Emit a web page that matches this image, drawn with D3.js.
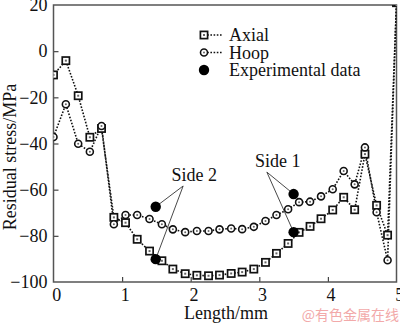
<!DOCTYPE html>
<html>
<head>
<meta charset="utf-8">
<script src="https://cdn.jsdelivr.net/npm/d3@7"></script>
<style>
  html, body { margin: 0; padding: 0; background: #fff; }
  svg { display: block; }
  text { font-family: "Liberation Serif", "Times New Roman", serif; fill: #111; }
</style>
</head>
<body>
<svg id="chart" width="400" height="325"></svg>
<script>
// Position along the specimen (mm)
const lengths = [0, 0.18, 0.36, 0.53, 0.70, 0.88, 1.05, 1.22, 1.40, 1.58, 1.74, 1.92, 2.09,
  2.26, 2.42, 2.59, 2.75, 2.92, 3.09, 3.25, 3.42, 3.58, 3.74, 3.90, 4.07, 4.23, 4.39,
  4.54, 4.71, 4.87, 5.0];
// Simulated residual stress (MPa)
const axial = [-10.3, -4.1, -19.3, -37.3, -33.5, -72.0, -74.3, -81.5, -86.6, -90.8, -94.4,
  -96.4, -97.1, -97.3, -97.0, -96.3, -95.7, -94.4, -91.5, -87.6, -83.3, -78.5, -75.9,
  -72.6, -68.8, -63.3, -68.7, -44.6, -66.8, -79.7, 21];
const hoop = [-37.2, -23.0, -40.1, -43.6, -32.4, -75.0, -71.0, -71.0, -72.7, -75.0, -77.2,
  -78.4, -77.9, -77.9, -77.2, -76.8, -77.1, -76.1, -73.6, -71.0, -68.5, -65.4, -65.2,
  -62.9, -59.8, -51.9, -57.7, -41.7, -69.8, -90.6, 21];
// Measured values on both sides
const expLength = [1.49, 1.49, 3.50, 3.50];
const expStress = [-67.4, -90.1, -61.9, -78.4];
const expSide = ["Side 2", "Side 2", "Side 1", "Side 1"];
// Callout label anchors (data coordinates)
const sideLabels = ["Side 2", "Side 1"];
const sideLabelLength = [1.89, 3.11];
const sideLabelStress = [-58.4, -52.4];

const xTicks = [0, 1, 2, 3, 4, 5];
const yTicks = [-100, -80, -60, -40, -20, 0, 20];

const svg = d3.select("#chart");
const x = d3.scaleLinear().domain([0, 5]).range([53.5, 396.5]);
const y = d3.scaleLinear().domain([-100, 20]).range([282, 5]);

svg.append("defs").append("clipPath").attr("id", "plot")
  .append("rect").attr("x", x(0)).attr("y", y(20))
  .attr("width", x(5) - x(0)).attr("height", y(-100) - y(20));

// Axes with inward ticks
const xAxis = svg.append("g").attr("transform", `translate(0,${y(-100)})`)
  .call(d3.axisBottom(x).tickValues(xTicks).tickFormat(d3.format("d")).tickSizeInner(-5).tickSizeOuter(0).tickPadding(6));
const yAxis = svg.append("g").attr("transform", `translate(${x(0)},0)`)
  .call(d3.axisLeft(y).tickValues(yTicks).tickSizeInner(-5).tickSizeOuter(0).tickPadding(6));
[xAxis, yAxis].forEach(g => {
  g.attr("font-family", null).attr("font-size", null);
  g.select(".domain").remove();
  g.selectAll(".tick line").attr("stroke", "#444").attr("stroke-width", 1.2);
  g.selectAll(".tick text").style("font-size", "18px").style("font-family", "Liberation Serif, serif").attr("fill", "#111");
});
xAxis.selectAll(".tick text").attr("dx", "0.15em");
xAxis.selectAll(".tick").filter(d => d === 0 || d === 5).select("line").remove();
yAxis.selectAll(".tick").filter(d => d === -100 || d === 20).select("line").remove();

// Frame
svg.append("rect").attr("x", x(0)).attr("y", y(20))
  .attr("width", x(5) - x(0)).attr("height", y(-100) - y(20))
  .attr("fill", "none").attr("stroke", "#555").attr("stroke-width", 1.5);

// Axis titles
svg.append("text").attr("x", 226).attr("y", 319).attr("text-anchor", "middle")
  .style("font-size", "18px").text("Length/mm");
svg.append("text").attr("transform", `translate(16,${157}) rotate(-90)`).attr("text-anchor", "middle")
  .style("font-size", "18px").text("Residual stress/MPa");

const plot = svg.append("g").attr("clip-path", "url(#plot)");
const line = d3.line().x(d => x(d[0])).y(d => y(d[1]));

function drawSquare(g, cx, cy) {
  g.append("rect").attr("x", cx - 3.6).attr("y", cy - 3.6).attr("width", 7.2).attr("height", 7.2)
    .attr("fill", "#fff").attr("stroke", "#111").attr("stroke-width", 1.7);
  g.append("rect").attr("x", cx - 1).attr("y", cy - 1).attr("width", 2).attr("height", 2).attr("fill", "#666");
}
function drawCircle(g, cx, cy) {
  g.append("circle").attr("cx", cx).attr("cy", cy).attr("r", 3.5)
    .attr("fill", "#fff").attr("stroke", "#111").attr("stroke-width", 1.6);
  g.append("circle").attr("cx", cx).attr("cy", cy).attr("r", 1).attr("fill", "#666");
}

const series = [
  { values: axial, marker: drawSquare },
  { values: hoop, marker: drawCircle }
];
series.forEach(s => {
  const pts = lengths.map((l, i) => [l, s.values[i]]);
  plot.append("path").datum(pts).attr("d", line)
    .attr("fill", "none").attr("stroke", "#111").attr("stroke-width", 1.6)
    .attr("stroke-dasharray", "1.6 1.6");
});
series.forEach(s => {
  lengths.forEach((l, i) => s.marker(plot, x(l), y(s.values[i])));
});

// Callouts for the experimental points
sideLabels.forEach((lab, k) => {
  const ax = x(sideLabelLength[k]), ay = y(sideLabelStress[k]);
  svg.append("text").attr("x", ax + 11).attr("y", ay - 5).attr("text-anchor", "middle")
    .style("font-size", "18px").text(lab);
  expSide.forEach((s, i) => {
    if (s !== lab) return;
    svg.append("line").attr("x1", ax).attr("y1", ay).attr("x2", x(expLength[i])).attr("y2", y(expStress[i]))
      .attr("stroke", "#333").attr("stroke-width", 0.9);
  });
});
expLength.forEach((l, i) => {
  svg.append("circle").attr("cx", x(l)).attr("cy", y(expStress[i])).attr("r", 5.2).attr("fill", "#000");
});

// Legend
const legend = svg.append("g");
const legendItems = ["Axial", "Hoop", "Experimental data"];
legendItems.forEach((name, i) => {
  const ly = 35 + i * 17.5;
  if (i < 2) {
    legend.append("line").attr("x1", 204).attr("x2", 222).attr("y1", ly).attr("y2", ly)
      .attr("stroke", "#111").attr("stroke-width", 1.6).attr("stroke-dasharray", "1.6 1.6");
    (i === 0 ? drawSquare : drawCircle)(legend, 204, ly);
  } else {
    legend.append("circle").attr("cx", 204).attr("cy", ly).attr("r", 5.2).attr("fill", "#000");
  }
  legend.append("text").attr("x", 229).attr("y", ly + 6).style("font-size", "18px").text(name);
});

// Source mark
svg.append("text").attr("x", 399).attr("y", 320).attr("text-anchor", "end")
  .style("font-family", "Noto Sans CJK SC, sans-serif").style("font-size", "14px")
  .style("fill", "#f2a9a9").text("@有色金属在线");
</script>
</body>
</html>
